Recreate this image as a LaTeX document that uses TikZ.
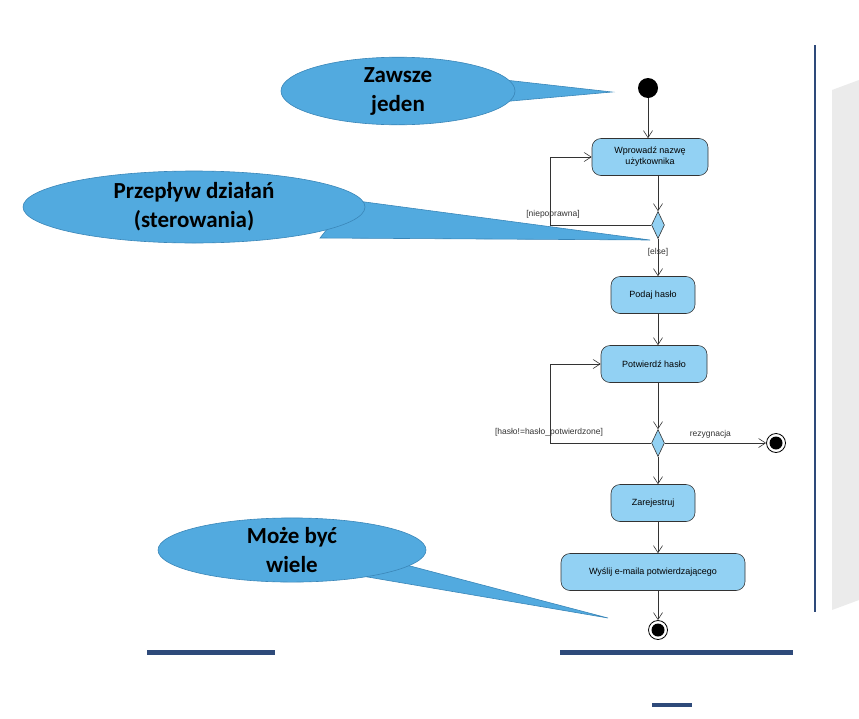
\documentclass[tikz,border=0pt]{standalone}
\usepackage{fontspec}
\setmainfont{Liberation Sans}
\newfontfamily\callfont{Carlito}
\usetikzlibrary{shapes.geometric,arrows.meta}
\definecolor{callblue}{HTML}{52AADF}
\definecolor{calledge}{HTML}{3A86B8}
\definecolor{actfill}{HTML}{92D1F3}
\definecolor{navy}{HTML}{2E4A7A}
\begin{document}
\begin{tikzpicture}[x=1pt,y=-1pt,
  act/.style={draw=black!80,fill=actfill,rounded corners=9pt,minimum height=37pt,font=\fontsize{9}{11}\selectfont,align=center,line width=0.6pt},
  flow/.style={draw=black!80,line width=0.6pt,-{Straight Barb[length=7pt,width=9pt]}},
  dec/.style={diamond,draw=black!80,fill=actfill,minimum width=13pt,minimum height=27pt,inner sep=0pt,line width=0.6pt},
  lbl/.style={font=\fontsize{8.5}{10}\selectfont,text=black!80},
  call/.style={ellipse,fill=callblue,draw=calledge,line width=0.6pt,font=\callfont\bfseries\fontsize{23}{29}\selectfont,align=center,inner sep=0pt},
  ptr/.style={fill=callblue,draw=calledge,line width=0.6pt}]
\useasboundingbox (0,0) rectangle (859,718);
% slide decorations
\draw[navy,line width=1.5pt] (815,45) -- (815,612);
\fill[black!8] (832,90) -- (859,80) -- (859,600) -- (832,610) -- cycle;
\fill[navy] (147,650) rectangle (275,655);
\fill[navy] (560,650) rectangle (793,655);
\fill[navy] (652,703) rectangle (692,707);
% diagram
\fill (648,88) circle (10);
\coordinate (s) at (648,98);
\node[act,minimum width=116pt] (a1) at (650,157) {Wprowadź nazwę\\użytkownika};
\node[dec] (d1) at (658,225) {};
\node[act,minimum width=84pt] (a2) at (653,295) {Podaj hasło};
\node[act,minimum width=106pt] (a3) at (654,364) {Potwierdź hasło};
\node[dec] (d2) at (658,443) {};
\node[act,minimum width=84pt] (a4) at (653,503) {Zarejestruj};
\node[act,minimum width=184pt] (a5) at (653,572) {Wyślij e-maila potwierdzającego};
\node[circle,draw,line width=0.8pt,minimum size=19pt,inner sep=0pt] (f1) at (658,630) {};
\fill (f1) circle (6.5);
\node[circle,draw,line width=0.8pt,minimum size=19pt,inner sep=0pt] (f2) at (776,443) {};
\fill (f2) circle (6.5);
\draw[flow] (s) -- (s|-a1.north);
\draw[flow] (a1.south-|d1) -- (d1.north);
\draw[flow] (d1.west) -- (550,225) |- (a1.west);
\node[lbl] at (553,214) {[niepoprawna]};
\draw[flow] (d1.south) -- (a2.north-|d1) node[lbl,midway,above=-2pt] {[else]};
\draw[flow] (a2.south-|d1) -- (a3.north-|d1);
\draw[flow] (a3.south-|d1) -- (d2.north);
\draw[flow] (d2.west) -- (550,443) |- (a3.west);
\node[lbl] at (549,432) {[hasło!=hasło\_potwierdzone]};
\draw[flow] (d2.east) -- (f2.west) node[lbl,pos=0.45,above=1pt] {rezygnacja};
\draw[flow] (d2.south) -- (a4.north-|d2);
\draw[flow] (a4.south-|d2) -- (a5.north-|d2);
\draw[flow] (a5.south-|d2) -- (f1.north);
% callouts
\draw[ptr] (505,80) -- (612,92) -- (500,102) -- cycle;
\node[call,minimum width=234pt,minimum height=66pt] (c1) at (398,91) {Zawsze\\jeden};
\draw[ptr] (350,200) -- (650,240) -- (320,238) -- cycle;
\node[call,minimum width=342pt,minimum height=72pt] (c2) at (194,207) {Przepływ działań\\(sterowania)};
\draw[ptr] (395,562) -- (608,618) -- (350,574) -- cycle;
\node[call,minimum width=268pt,minimum height=52pt] (c3) at (292,550) {Może być\\wiele};
\end{tikzpicture}
\end{document}
